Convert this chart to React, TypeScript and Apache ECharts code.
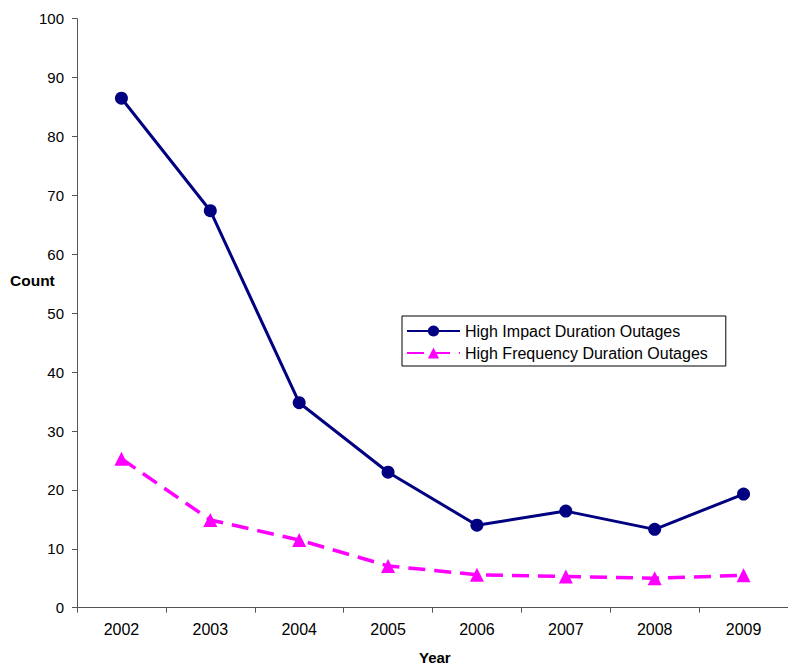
import React, { useEffect, useRef } from "react";
import * as echarts from "echarts";

const years = ["2002", "2003", "2004", "2005", "2006", "2007", "2008", "2009"];
const highImpact = [86.5, 67.4, 34.8, 23.0, 14.0, 16.4, 13.3, 19.3];
const highFrequency = [25.3, 14.9, 11.5, 7.1, 5.6, 5.3, 5.0, 5.5];
const seriesNames = ["High Impact Duration Outages", "High Frequency Duration Outages"];

const FONT = "'Liberation Sans', Arial, sans-serif";

export default function App() {
  const ref = useRef<HTMLDivElement>(null);
  useEffect(() => {
    const chart = echarts.init(ref.current!, null, { renderer: "svg" });
    chart.setOption({
      animation: false,
      backgroundColor: "#fff",
      textStyle: { fontFamily: FONT },
      grid: { left: 77, top: 18.7, bottom: 60.3, right: -4 },
      legend: {
        orient: "vertical",
        left: 402,
        top: 316,
        padding: [7, 18, 5, 4],
        itemGap: 6,
        itemWidth: 53,
        itemHeight: 14,
        borderColor: "#000",
        borderWidth: 1,
        backgroundColor: "#fff",
        textStyle: { fontFamily: FONT, fontSize: 16, color: "#000" },
        data: seriesNames,
      },
      xAxis: {
        type: "category",
        data: years,
        boundaryGap: true,
        axisLine: { lineStyle: { color: "#555", width: 1 } },
        axisTick: { show: true, length: 5, alignWithLabel: false, lineStyle: { color: "#555" } },
        axisLabel: { fontFamily: FONT, fontSize: 16, color: "#000", margin: 14 },
        splitLine: { show: false },
      },
      yAxis: {
        type: "value",
        min: 0,
        max: 100,
        interval: 10,
        axisLine: { show: true, lineStyle: { color: "#555", width: 1 } },
        axisTick: { show: true, length: 5, lineStyle: { color: "#555" } },
        axisLabel: { fontFamily: FONT, fontSize: 15, color: "#000", margin: 13 },
        splitLine: { show: false },
      },
      graphic: [
        {
          type: "text",
          left: 10,
          top: 272,
          style: { text: "Count", fontFamily: FONT, fontSize: 15.5, fontWeight: "bold", fill: "#000" },
        },
        {
          type: "text",
          left: 419,
          top: 650,
          style: { text: "Year", fontFamily: FONT, fontSize: 15, fontWeight: "bold", fill: "#000" },
        },
      ],
      series: [
        {
          name: seriesNames[0],
          type: "line",
          data: highImpact,
          symbol: "circle",
          symbolSize: 13,
          itemStyle: { color: "#000080" },
          lineStyle: { color: "#000080", width: 3 },
        },
        {
          name: seriesNames[1],
          type: "line",
          data: highFrequency,
          symbol: "triangle",
          symbolSize: 14,
          itemStyle: { color: "#FF00FF" },
          lineStyle: { color: "#FF00FF", width: 3.5, type: [17, 9] },
        },
      ],
    });
    return () => chart.dispose();
  }, []);
  return (
    <div
      ref={ref}
      style={{ position: "fixed", left: 0, top: 0, width: 788, height: 668 }}
    />
  );
}
